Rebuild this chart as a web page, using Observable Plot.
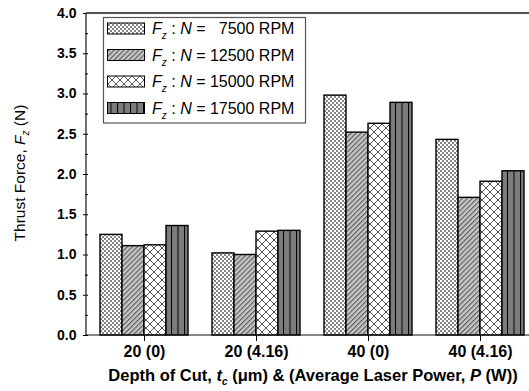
<!DOCTYPE html>
<html><head><meta charset="utf-8">
<script src="https://cdn.jsdelivr.net/npm/d3@7"></script>
<script src="https://cdn.jsdelivr.net/npm/@observablehq/plot@0.6"></script>
<style>body{margin:0;background:#fff;}</style>
</head><body><div id="chart"></div>
<script>
const groups = ["20 (0)", "20 (4.16)", "40 (0)", "40 (4.16)"];
const speeds = ["7500", "12500", "15000", "17500"];
const force7500  = [1.25, 1.02, 2.98, 2.43];
const force12500 = [1.11, 1.00, 2.52, 1.71];
const force15000 = [1.12, 1.29, 2.63, 1.91];
const force17500 = [1.36, 1.30, 2.89, 2.04];
const yTicks = [0, 0.5, 1, 1.5, 2, 2.5, 3, 3.5, 4];
const yMinorTicks = [0.25, 0.75, 1.25, 1.75, 2.25, 2.75, 3.25, 3.75];

const forces = [force7500, force12500, force15000, force17500];
const data = groups.flatMap((g, i) => speeds.map((s, j) => ({group: g, speed: s, force: forces[j][i]})));

const W = 529, H = 391, ML = 86, MR = -8, MT = 13, MB = 56;
const patterns = speeds.map((s, i) => `url(#pat${i})`);

const chart = Plot.plot({
  width: W, height: H,
  marginLeft: ML, marginRight: MR, marginTop: MT, marginBottom: MB,
  style: {fontFamily: "'Liberation Sans', Arial, sans-serif", fontSize: "14px", fontWeight: "bold", color: "#000", background: "#fff"},
  fx: {domain: groups, padding: 0, label: null},
  x: {domain: speeds, paddingInner: 0, paddingOuter: 0.477, axis: null},
  y: {domain: [0, 4], label: null},
  color: {domain: speeds, range: patterns},
  marks: [
    Plot.barY(data, {fx: "group", x: "speed", y: "force", fill: "speed", stroke: "#000", strokeWidth: 1.4}),
    Plot.axisY({ticks: yMinorTicks, tickSize: 3, tickFormat: () => "", label: null}),
    Plot.axisY({ticks: yTicks, tickSize: 5, tickPadding: 7, tickFormat: d3.format(".1f"), fontSize: 14, fontWeight: "bold", label: null}),
    Plot.axisFx({anchor: "bottom", tickSize: 6, tickPadding: 4, fontSize: 16, fontWeight: "bold", label: null})
  ]
});
document.getElementById("chart").appendChild(chart);

const svg = d3.select(chart);
const defs = svg.insert("defs", ":first-child");
// 7500: fine checker
const p0 = defs.append("pattern").attr("id", "pat0").attr("patternUnits", "userSpaceOnUse").attr("width", 4).attr("height", 4);
p0.append("rect").attr("width", 4).attr("height", 4).attr("fill", "#fff");
p0.append("rect").attr("width", 2).attr("height", 2).attr("fill", "#858585");
p0.append("rect").attr("x", 2).attr("y", 2).attr("width", 2).attr("height", 2).attr("fill", "#858585");
// 12500: diagonal hatch on grey
const p1 = defs.append("pattern").attr("id", "pat1").attr("patternUnits", "userSpaceOnUse").attr("width", 3.5).attr("height", 3.5).attr("patternTransform", "rotate(45)");
p1.append("rect").attr("width", 3.5).attr("height", 3.5).attr("fill", "#c8c8c8");
p1.append("rect").attr("width", 1.2).attr("height", 3.5).attr("fill", "#606060");
// 15000: diamond crosshatch
const p2 = defs.append("pattern").attr("id", "pat2").attr("patternUnits", "userSpaceOnUse").attr("width", 8).attr("height", 8);
p2.append("rect").attr("width", 8).attr("height", 8).attr("fill", "#fff");
p2.append("path").attr("d", "M0,0L8,8M8,0L0,8").attr("stroke", "#222").attr("stroke-width", 0.75);
// 17500: vertical lines on dark grey
const p3 = defs.append("pattern").attr("id", "pat3").attr("patternUnits", "userSpaceOnUse").attr("width", 6.5).attr("height", 10);
p3.append("rect").attr("width", 6.5).attr("height", 10).attr("fill", "#7c7c7c");
p3.append("rect").attr("width", 1).attr("height", 10).attr("fill", "#000");

// frame
const [yb, yt] = chart.scale("y").range;
svg.append("line").attr("x1", ML).attr("x2", W).attr("y1", yt).attr("y2", yt).attr("stroke", "#555").attr("stroke-width", 2);
svg.append("line").attr("x1", ML).attr("x2", W).attr("y1", yb).attr("y2", yb).attr("stroke", "#111").attr("stroke-width", 1.2);
svg.append("line").attr("x1", ML).attr("x2", ML).attr("y1", yt).attr("y2", yb).attr("stroke", "#111").attr("stroke-width", 1.2);

// legend
const leg = svg.append("g").attr("text-anchor", "start");
leg.append("rect").attr("x", 103.5).attr("y", 17.5).attr("width", 202).attr("height", 105.5)
  .attr("fill", "#fff").attr("stroke", "#555").attr("stroke-width", 1.2);
speeds.forEach((s, i) => {
  const cy = 28.5 + i * 26.5;
  leg.append("rect").attr("x", 107.5).attr("y", cy - 5.5).attr("width", 37).attr("height", 11)
    .attr("fill", patterns[i]).attr("stroke", "#000").attr("stroke-width", 1);
  const t = leg.append("text").attr("x", 152).attr("y", cy + 5.5).attr("text-anchor", "start").attr("font-size", 16).attr("font-weight", "normal");
  t.append("tspan").attr("font-style", "italic").text("F");
  t.append("tspan").attr("font-style", "italic").attr("font-size", 10).attr("dy", 5).text("z");
  t.append("tspan").attr("dy", -5).text(" : ");
  t.append("tspan").attr("font-style", "italic").text("N");
  t.append("tspan").text(" = " + (s.length < 5 ? "  " : "") + s + " RPM");
});

// x title
const xt = svg.append("text").attr("x", 313).attr("y", 381).attr("text-anchor", "middle").attr("font-size", 16.5).attr("font-weight", "bold");
xt.append("tspan").text("Depth of Cut, ");
xt.append("tspan").attr("font-style", "italic").text("t");
xt.append("tspan").attr("font-style", "italic").attr("font-size", 10).attr("dy", 4).text("c");
xt.append("tspan").attr("dy", -4).text(" (μm) & (Average Laser Power, ");
xt.append("tspan").attr("font-style", "italic").text("P");
xt.append("tspan").text(" (W))");

// y title
const ytt = svg.append("text").attr("transform", "translate(25,173) rotate(-90)").attr("text-anchor", "middle").attr("font-size", 15.5).attr("font-weight", "normal");
ytt.append("tspan").text("Thrust Force, ");
ytt.append("tspan").attr("font-style", "italic").text("F");
ytt.append("tspan").attr("font-style", "italic").attr("font-size", 10).attr("dy", 4).text("z");
ytt.append("tspan").attr("dy", -4).text(" (N)");
</script>
</body></html>
